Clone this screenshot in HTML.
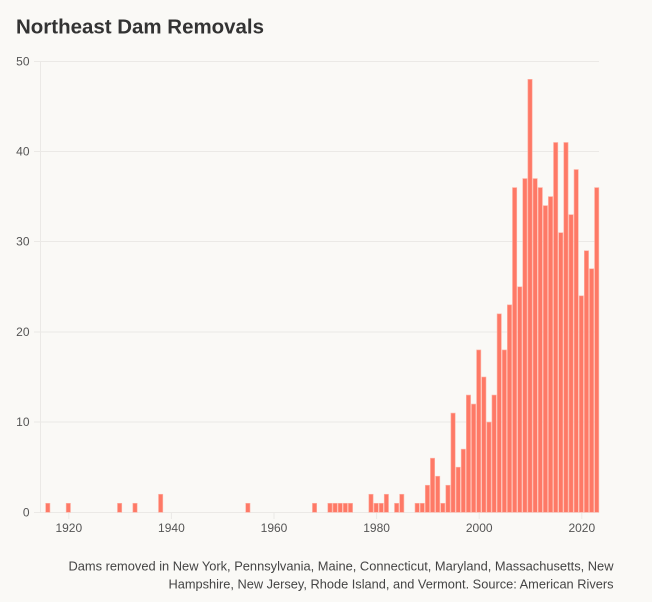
<!DOCTYPE html>
<html><head><meta charset="utf-8"><style>
html,body{margin:0;padding:0;background:#faf9f6;}
svg{display:block;}
text{font-family:"Liberation Sans",sans-serif;}
</style></head><body>
<svg width="652" height="602" viewBox="0 0 652 602" xmlns="http://www.w3.org/2000/svg">
<rect width="652" height="602" fill="#faf9f6"/>
<text x="16" y="33.5" font-size="20" font-weight="bold" fill="#333" textLength="248" lengthAdjust="spacingAndGlyphs">Northeast Dam Removals</text>
<g stroke="#ebe9e6" stroke-width="1">
<line x1="34" x2="599" y1="61.5" y2="61.5"/>
<line x1="34" x2="599" y1="151.5" y2="151.5"/>
<line x1="34" x2="599" y1="241.5" y2="241.5"/>
<line x1="34" x2="599" y1="332" y2="332"/>
<line x1="34" x2="599" y1="422" y2="422"/>
<line x1="34" x2="599" y1="512.5" y2="512.5"/>
<line x1="40.5" x2="40.5" y1="61" y2="512"/>
<line x1="68.8" x2="68.8" y1="512" y2="519"/>
<line x1="171.4" x2="171.4" y1="512" y2="519"/>
<line x1="274" x2="274" y1="512" y2="519"/>
<line x1="376.6" x2="376.6" y1="512" y2="519"/>
<line x1="479.2" x2="479.2" y1="512" y2="519"/>
<line x1="581.8" x2="581.8" y1="512" y2="519"/>
</g>
<g font-size="12" fill="#555" text-anchor="end">
<text x="29.5" y="65.5">50</text>
<text x="29.5" y="155.5">40</text>
<text x="29.5" y="245.5">30</text>
<text x="29.5" y="336">20</text>
<text x="29.5" y="426">10</text>
<text x="29.5" y="516.5">0</text>
</g>
<g font-size="12" fill="#555" text-anchor="middle">
<text x="68.8" y="532">1920</text>
<text x="171.4" y="532">1940</text>
<text x="274" y="532">1960</text>
<text x="376.6" y="532">1980</text>
<text x="479.2" y="532">2000</text>
<text x="581.8" y="532">2020</text>
</g>
<g id="bars" fill="#fe7966" stroke="#ffb3a6" stroke-width="0.6"></g>
<g font-size="13" fill="#444" text-anchor="end">
<text x="613.5" y="570.3" textLength="545" lengthAdjust="spacingAndGlyphs">Dams removed in New York, Pennsylvania, Maine, Connecticut, Maryland, Massachusetts, New</text>
<text x="613.5" y="588.3" textLength="445" lengthAdjust="spacingAndGlyphs">Hampshire, New Jersey, Rhode Island, and Vermont. Source: American Rivers</text>
</g>
</svg>
<script>
var d={1916:1,1920:1,1930:1,1933:1,1938:2,1955:1,1968:1,1971:1,1972:1,1973:1,1974:1,1975:1,1979:2,1980:1,1981:1,1982:2,1984:1,1985:2,1988:1,1989:1,1990:3,1991:6,1992:4,1993:1,1994:3,1995:11,1996:5,1997:7,1998:13,1999:12,2000:18,2001:15,2002:10,2003:13,2004:22,2005:18,2006:23,2007:36,2008:25,2009:37,2010:48,2011:37,2012:36,2013:34,2014:35,2015:41,2016:31,2017:41,2018:33,2019:38,2020:24,2021:29,2022:27,2023:36};
var g=document.getElementById('bars'),ns='http://www.w3.org/2000/svg',s='';
for(var y in d){var cx=47.8+(y-1916)*5.13,h=d[y]*9.02,w=4.3;
s+='<rect x="'+(cx-w/2).toFixed(2)+'" y="'+(512.3-h).toFixed(2)+'" width="'+w+'" height="'+h.toFixed(2)+'"/>';}
g.innerHTML=s;
</script>
</body></html>
